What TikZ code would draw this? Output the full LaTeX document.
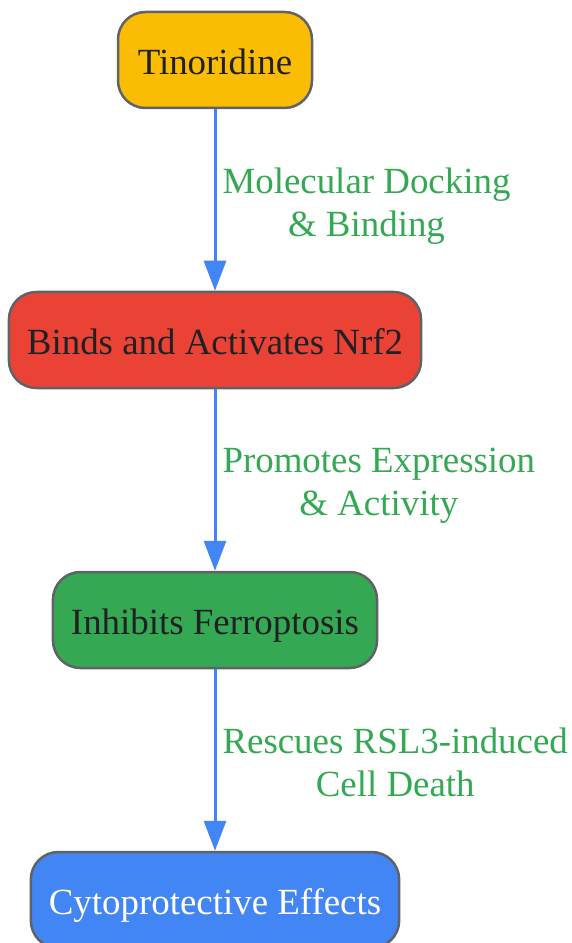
\documentclass[tikz,border=0pt]{standalone}
\usepackage{fontspec}
\setmainfont{Liberation Serif}
\definecolor{tinoyellow}{HTML}{FBBC04}
\definecolor{nrfred}{HTML}{EA4335}
\definecolor{ferrgreen}{HTML}{34A853}
\definecolor{cytoblue}{HTML}{4285F4}
\definecolor{boxgray}{HTML}{5F6368}
\definecolor{inkdark}{HTML}{202124}
\usetikzlibrary{arrows.meta, positioning}

\begin{document}
\begin{tikzpicture}[
  flowbox/.style={draw=boxgray, line width=0.05cm, rounded corners=0.55cm, minimum height=1.92cm, inner xsep=0.36cm, text height=0.72cm, text depth=0.15cm, text=inkdark, font=\fontsize{21pt}{24.5pt}\selectfont},
  flowarr/.style={draw=cytoblue, line width=0.06cm, -{Triangle[length=0.6cm, width=0.44cm]}},
  arrlbl/.style={anchor=west, align=center, inner xsep=0.12cm, yshift=-0.12cm, text=ferrgreen, font=\fontsize{21pt}{24.5pt}\selectfont}
]
  \useasboundingbox (0, 0) rectangle (11.42, -18.86);

  \node[flowbox, fill=tinoyellow, minimum width=3.88cm] (tino) at (4.30, -1.20) {Tinoridine};
  \node[flowbox, fill=nrfred] (nrf) at (4.30, -6.80) {Binds and Activates Nrf2};
  \node[flowbox, fill=ferrgreen] (ferro) at (4.30, -12.40) {Inhibits Ferroptosis};
  \node[flowbox, fill=cytoblue, text=white] (cyto) at (4.30, -18.00) {Cytoprotective Effects};

  \draw[flowarr] (tino) -- node[arrlbl] {Molecular Docking\\\& Binding} (nrf);
  \draw[flowarr] (nrf) -- node[arrlbl] {Promotes Expression\\\& Activity} (ferro);
  \draw[flowarr] (ferro) -- node[arrlbl, yshift=0.08cm] {Rescues RSL3-induced\\Cell Death} (cyto);
\end{tikzpicture}
\end{document}
